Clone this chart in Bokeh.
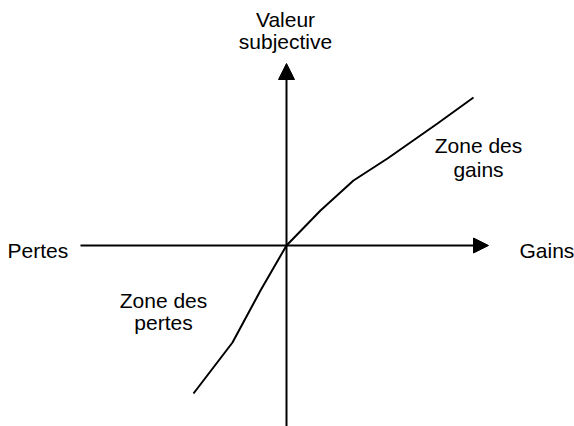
from bokeh.plotting import figure
from bokeh.models import Arrow, NormalHead, Range1d, ColumnDataSource
from bokeh.core.properties import value
from bokeh.embed import file_html
from bokeh.resources import INLINE

# Value function (prospect theory)
gain_x = [0, 34, 67, 101, 151, 187]
gain_y = [0, 35, 65, 87, 122, 148]
loss_x = [0, -26, -54, -93]
loss_y = [0, -45, -97, -148]

FONT = "Liberation Sans"

p = figure(width=574, height=426, output_backend="svg", toolbar_location=None,
           x_range=Range1d(-286, 288), y_range=Range1d(-181, 245),
           min_border=0, outline_line_color=None)
p.axis.visible = False
p.grid.visible = False
p.background_fill_color = "white"
p.border_fill_color = "white"

# axes with arrows
p.add_layout(Arrow(x_start=-206, y_start=0, x_end=202, y_end=0, line_width=2,
                   line_color="black",
                   end=NormalHead(size=15, fill_color="black", line_color="black", line_width=1)))
p.add_layout(Arrow(x_start=0, y_start=-185, x_end=0, y_end=182, line_width=2,
                   line_color="black",
                   end=NormalHead(size=16, fill_color="black", line_color="black", line_width=1)))

# curve
p.line(loss_x[::-1] + gain_x[1:], loss_y[::-1] + gain_y[1:], line_color="black", line_width=2)

DY = 7

def txt(x, y, s, align="center"):
    src = ColumnDataSource(dict(x=[x], y=[y + DY], t=[s]))
    p.text("x", "y", text="t", source=src, text_font=value(FONT),
           text_font_size="21px", text_align=align, text_baseline="alphabetic",
           text_color="black")

txt(-1, 219, "Valeur")
txt(-1, 197, "subjective")
txt(-279, -12, "Pertes", "left")
txt(233, -12, "Gains", "left")
txt(192, 93, "Zone des")
txt(192, 69, "gains")
txt(-123, -62, "Zone des")
txt(-123, -84, "pertes")

open("out.html", "w").write(file_html(p, INLINE))
